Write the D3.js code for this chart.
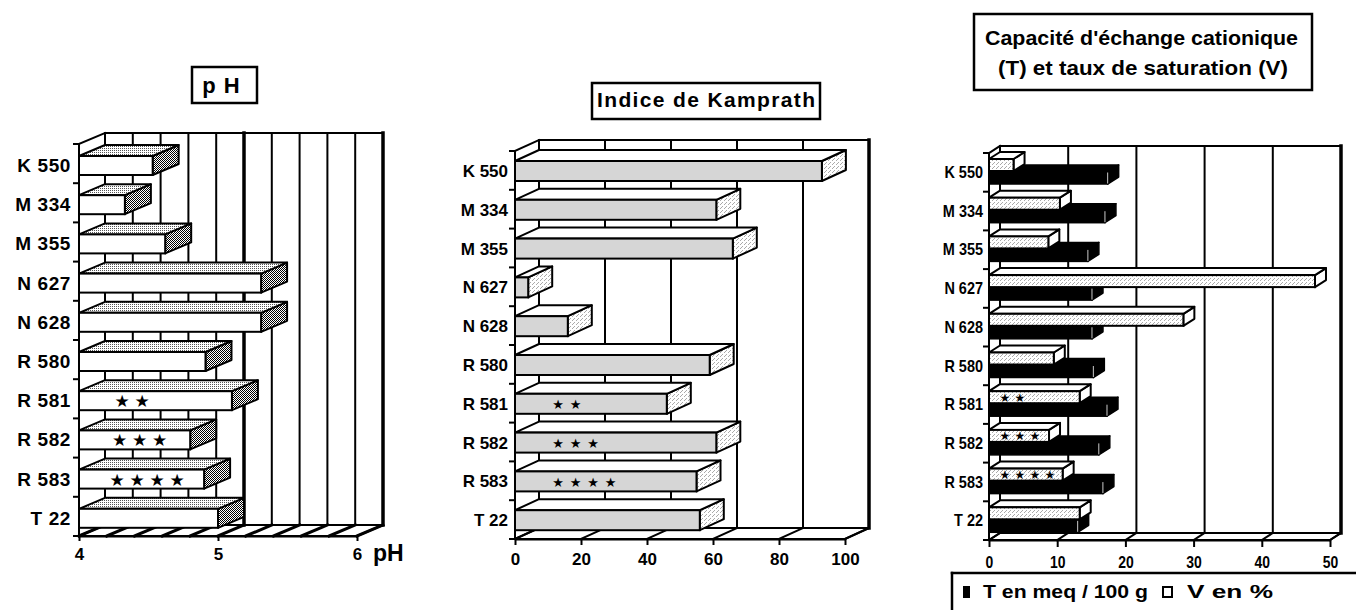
<!DOCTYPE html>
<html><head><meta charset="utf-8">
<script src="https://cdn.jsdelivr.net/npm/d3@7"></script>
<style>
body{margin:0;background:#fff}
svg{display:block}
text{font-family:"Liberation Sans",Arial,sans-serif;font-weight:bold;fill:#000}
</style>
</head><body><script>
// ---------- data ----------
const categories = ["K 550","M 334","M 355","N 627","N 628","R 580","R 581","R 582","R 583","T 22"];
const starCounts = [0,0,0,0,0,0,2,3,4,0];
const phValues = [4.53,4.33,4.62,5.31,5.31,4.91,5.10,4.80,4.90,5.00];
const kamprathValues = [93,61,66,4,16,59,46,61,55,56];
const tValues = [17.4,17.0,14.5,15.1,15.1,15.3,17.3,16.1,16.7,13.0];
const vValues = [3.6,10.4,8.7,47.8,28.5,9.5,13.3,8.8,10.8,13.3];
const phTicks = [4,5,6];
const kamprathTicks = [0,20,40,60,80,100];
const cecTicks = [0,10,20,30,40,50];
const phTitle = "p H";
const kamprathTitle = "Indice de Kamprath";
const cecTitle = ["Capacité d'échange cationique","(T) et taux de saturation (V)"];
const legendLabels = ["T en meq / 100 g","V en %"];

// ---------- setup ----------
const svg = d3.select("body").append("svg").attr("width",1356).attr("height",610);
const defs = svg.append("defs");
function pat(id, size, cells, col){
  const p = defs.append("pattern").attr("id",id).attr("width",size).attr("height",size).attr("patternUnits","userSpaceOnUse");
  p.append("rect").attr("width",size).attr("height",size).attr("fill","#fff");
  cells.forEach(([a,b])=>p.append("rect").attr("x",a).attr("y",b).attr("width",1).attr("height",1).attr("fill",col));
}
pat("dotL",2,[[0,0]],"#555");
pat("dotD",2,[[0,0],[1,1]],"#000");
pat("speck",4,[[0,0],[2,2],[1,3]],"#aaa");

function line(g,x1,y1,x2,y2,w){
  return g.append("line").attr("x1",x1).attr("y1",y1).attr("x2",x2).attr("y2",y2)
    .attr("stroke","#000").attr("stroke-width",w||2).attr("stroke-linecap","square");
}
function poly(g,pts,fill,sw,stroke){
  return g.append("polygon").attr("points",pts.map(p=>p.join(",")).join(" "))
    .attr("fill",fill).attr("stroke",stroke||"#000").attr("stroke-width",sw==null?2:sw).attr("stroke-linejoin","round");
}
function bar3d(g,x0,x1,yt,h,dx,dy,st){
  poly(g,[[x1,yt],[x1+dx,yt+dy],[x1+dx,yt+h+dy],[x1,yt+h]],st.right,st.sw,st.stroke);
  poly(g,[[x0,yt],[x0+dx,yt+dy],[x1+dx,yt+dy],[x1,yt]],st.top,st.sw,st.stroke);
  g.append("rect").attr("x",x0).attr("y",yt).attr("width",Math.max(0,x1-x0)).attr("height",h)
    .attr("fill",st.front).attr("stroke",st.stroke||"#000").attr("stroke-width",st.sw==null?2:st.sw);
  if(st.edge) line(g,x1,yt+1,x1,yt+h-1,0.8).attr("stroke",st.edge);
}
function frame(g,x,y,dx,dy,o){
  const [d0,d1]=x.domain(); const yT=y.range()[0], yB=y.range()[1];
  const X0=x(d0), X1=x(d1);
  poly(g,[[X0,yB],[X1,yB],[X1+dx,yB+dy],[X0+dx,yB+dy]],"#fff",2);
  o.floorVals.forEach(v=>line(g,x(v),yB,x(v)+dx,yB+dy,o.floorW));
  o.gridVals.forEach(v=>{
    const w = v===d1 ? o.rightW : (o.thick && o.thick.includes(v) ? o.thickW : 2);
    line(g,x(v)+dx,yT+dy,x(v)+dx,yB+dy,w);
  });
  line(g,X0+dx,yT+dy,X1+dx,yT+dy,2);
  line(g,X0,yT,X0+dx,yT+dy,2);
  line(g,X0,yT,X0,yB,2);
  const bounds = y.domain().map(c=>y(c)).concat([yB]);
  bounds.forEach(b=>line(g,X0-5,b,X0,b,2));
}
function bottomAxis(g,x,yB,ticks,o){
  const ax = g.append("g").attr("transform",`translate(0,${yB})`)
    .call(d3.axisBottom(x).tickValues(ticks).tickSize(o.tl).tickSizeOuter(0).tickFormat(d3.format("d")));
  ax.attr("font-size",null).attr("font-family",null);
  ax.select(".domain").attr("stroke","#000").attr("stroke-width",2);
  ax.selectAll(".tick line").attr("stroke","#000").attr("stroke-width",2);
  ax.selectAll(".tick text").attr("y",o.base).attr("dy",null)
    .style("font-family",'"Liberation Sans",Arial,sans-serif').style("font-weight","bold")
    .style("font-size",o.fs+"px").attr("fill","#000")
    .each(function(){ if(o.squeeze){ const L=this.getComputedTextLength(); d3.select(this).attr("textLength",L*o.squeeze).attr("lengthAdjust","spacingAndGlyphs"); }});
  return ax;
}
function stars(g,n,cx,cy,sp,fs){
  for(let i=0;i<n;i++){
    g.append("text").attr("x",cx+i*sp).attr("y",cy).attr("text-anchor","middle")
      .attr("dominant-baseline","central").style("font-family","DejaVu Sans").style("font-size",fs+"px").text("★");
  }
}

// ---------- Panel 1 : pH ----------
{
  const g = svg.append("g");
  const x = d3.scaleLinear([4,6],[79,357]);
  const y = d3.scaleBand(categories,[144,536]);
  const dx=26, dy=-11;
  frame(g,x,y,dx,dy,{gridVals:x.ticks(10),thick:[5],thickW:3.5,rightW:3.5,floorVals:x.ticks(10),floorW:3});
  const st={front:"#fff",top:"url(#dotL)",right:"url(#dotD)",sw:2};
  categories.forEach((c,i)=>{
    const yt=y(c)+12;
    bar3d(g,x(4),x(phValues[i]),yt,19,dx,dy,st);
    stars(g,starCounts[i],122-(starCounts[i]-2)*2.5,yt+10,20,17);
    g.append("text").attr("x",71).attr("y",y(c)+28).attr("text-anchor","end")
      .style("font-size","19px").style("letter-spacing","0.6px").text(c);
  });
  bottomAxis(g,x,536,phTicks,{tl:5,base:24,fs:17});
  g.append("text").attr("x",373).attr("y",561).style("font-size","23px").text("pH");
  g.append("rect").attr("x",192).attr("y",67).attr("width",65).attr("height",36)
    .attr("fill","none").attr("stroke","#000").attr("stroke-width",2.5);
  g.append("text").attr("x",221).attr("y",93).attr("text-anchor","middle")
    .style("font-size","22px").style("word-spacing","2px").text(phTitle);
}

// ---------- Panel 2 : Kamprath ----------
{
  const g = svg.append("g");
  const x = d3.scaleLinear([0,100],[515,845]);
  const y = d3.scaleBand(categories,[151,539]);
  const dx=24, dy=-11;
  frame(g,x,y,dx,dy,{gridVals:kamprathTicks,rightW:3.5,floorVals:kamprathTicks,floorW:2});
  const st={front:"#d6d6d6",top:"#fff",right:"url(#speck)",sw:2};
  categories.forEach((c,i)=>{
    const yt=y(c)+10;
    bar3d(g,x(0),x(kamprathValues[i]),yt,20,dx,dy,st);
    stars(g,starCounts[i],558,yt+11,17.5,13);
    g.append("text").attr("x",508).attr("y",y(c)+26).attr("text-anchor","end")
      .style("font-size","17px").text(c);
  });
  bottomAxis(g,x,539,kamprathTicks,{tl:6,base:26,fs:17});
  g.append("rect").attr("x",592).attr("y",83).attr("width",228).attr("height",36)
    .attr("fill","none").attr("stroke","#000").attr("stroke-width",2.5);
  g.append("text").attr("x",597).attr("y",107).style("font-size","21px")
    .attr("textLength",218).attr("lengthAdjust","spacing").text(kamprathTitle);
}

// ---------- Panel 3 : CEC ----------
{
  const g = svg.append("g");
  const x = d3.scaleLinear([0,50],[989,1330]);
  const y = d3.scaleBand(categories,[153,540]);
  const dx=11, dy=-7;
  frame(g,x,y,dx,dy,{gridVals:cecTicks,rightW:3.5,floorVals:cecTicks,floorW:2});
  const stT={front:"#000",top:"#000",right:"#000",sw:1.5,edge:"#fff"};
  const stV={front:"url(#speck)",top:"#fff",right:"#fff",sw:2};
  categories.forEach((c,i)=>{
    bar3d(g,x(0),x(tValues[i]),y(c)+19,12,dx,dy,stT);
    bar3d(g,x(0),x(vValues[i]),y(c)+6,12,dx,dy,stV);
    stars(g,starCounts[i],1005,y(c)+12.5,15,12);
    const t=g.append("text").attr("x",983).attr("y",y(c)+25).attr("text-anchor","end")
      .style("font-size","17px").text(c);
    const L=t.node().getComputedTextLength();
    t.attr("textLength",L*0.85).attr("lengthAdjust","spacingAndGlyphs");
  });
  bottomAxis(g,x,540,cecTicks,{tl:7,base:28,fs:17,squeeze:0.82});
  g.append("rect").attr("x",974).attr("y",14).attr("width",338).attr("height",76)
    .attr("fill","none").attr("stroke","#000").attr("stroke-width",2.5);
  g.append("text").attr("x",985).attr("y",45).style("font-size","21px")
    .attr("textLength",313).attr("lengthAdjust","spacingAndGlyphs").text(cecTitle[0]);
  g.append("text").attr("x",998).attr("y",75).style("font-size","21px")
    .attr("textLength",290).attr("lengthAdjust","spacingAndGlyphs").text(cecTitle[1]);
  line(g,952,573,1356,573,2.5);
  line(g,952,573,952,610,2.5);
  g.append("rect").attr("x",963).attr("y",586).attr("width",7).attr("height",12).attr("fill","#000");
  g.append("text").attr("x",983).attr("y",598).style("font-size","19px")
    .attr("textLength",165).attr("lengthAdjust","spacingAndGlyphs").text(legendLabels[0]);
  g.append("rect").attr("x",1163).attr("y",587).attr("width",9).attr("height",10)
    .attr("fill","#fff").attr("stroke","#000").attr("stroke-width",2);
  g.append("text").attr("x",1187).attr("y",598).style("font-size","19px")
    .attr("textLength",86).attr("lengthAdjust","spacingAndGlyphs").text(legendLabels[1]);
}
</script></body></html>
